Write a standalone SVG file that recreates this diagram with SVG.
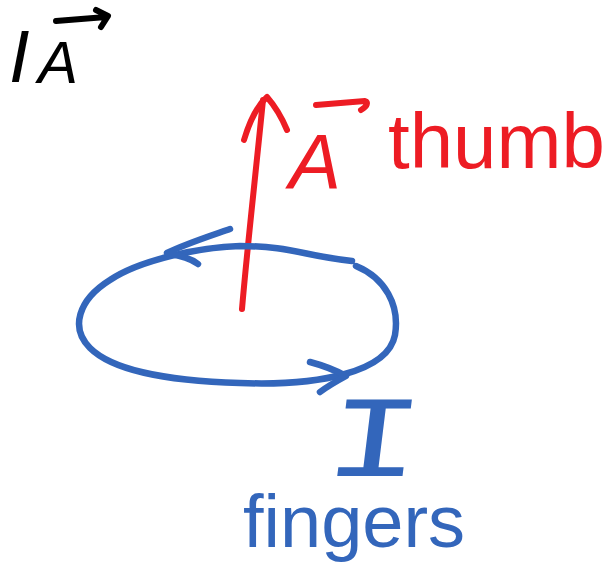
<svg xmlns="http://www.w3.org/2000/svg" width="613" height="583" viewBox="0 0 613 583">
<style>
.s{fill:none;stroke-linecap:round;stroke-linejoin:round;stroke-width:6}
.k{stroke:#000}
.r{stroke:#ED1C24}
.b{stroke:#3366BB;stroke-width:6.5}
.t{font-family:"Liberation Sans","DejaVu Sans",sans-serif}
</style>
<rect width="613" height="583" fill="#fff"/>
<g id="label-IA">
<text class="t" x="9" y="82" font-size="74" font-style="italic" fill="#000">I</text>
<text class="t" x="38" y="83" font-size="60" font-style="italic" fill="#000">A</text>
<path class="s k" d="M56,21 L106,17 M96,10 L108,16 L101,27"/>
</g>
<g id="connectors">
<g id="vector-A">
<path class="s r" d="M242,309 C247,250 255,180 263,100"/>
<path class="s r" d="M244,140 C250,120 258,105 267,97 C274,105 282,118 287,130"/>
</g>
<g id="current-loop">
<path class="s b" d="M356,266 C385,278 400,305 395,335 C388,372 320,386 240,383 C160,381 110,368 90,348 C70,328 78,300 110,280 C140,260 200,247 240,246 C290,246 305,256 352,261"/>
<path class="s b" d="M230,229 C210,236 185,244 167,253 C180,256 190,258 198,264"/>
<path class="s b" d="M310,362 C325,366 335,370 346,376 C335,382 328,386 320,392"/>
</g>
</g>
<g id="label-A-thumb">
<text class="t" x="289" y="189" font-size="78" font-style="italic" fill="#ED1C24">A</text>
<path class="s r" d="M316,105 L365,101 C368,102 368,106 361,110"/>
<text class="t" x="388" y="168" font-size="78" fill="#ED1C24">thumb</text>
</g>
<g id="label-I">
<text font-family="Liberation Mono, monospace" font-size="116" fill="#3366BB" text-anchor="middle" transform="translate(370,476) scale(1.4,1) skewX(-5)">I</text>
</g>
<g id="label-fingers">
<text class="t" x="243" y="547" font-size="74" fill="#3366BB">fingers</text>
</g>
</svg>
